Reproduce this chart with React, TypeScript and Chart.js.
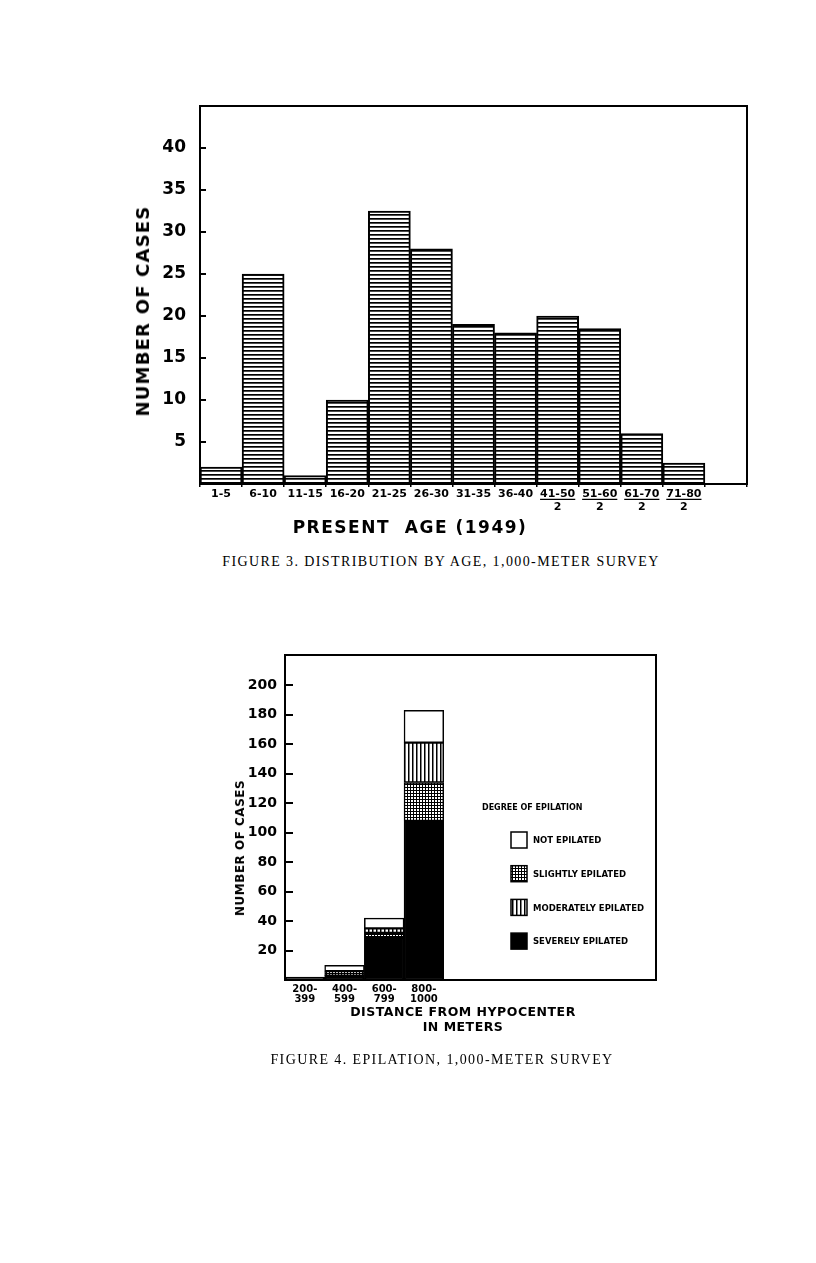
import React, { useEffect, useRef } from "react";
import { Chart, registerables } from "chart.js";

Chart.register(...registerables);

// ---------- Figure 3 data ----------
const ageLabels = ["1-5", "6-10", "11-15", "16-20", "21-25", "26-30", "31-35", "36-40", "41-50", "51-60", "61-70", "71-80", ""];
const ageDivisors = ["", "", "", "", "", "", "", "", "2", "2", "2", "2", ""];
const ageCases = [2, 25, 1, 10, 32.5, 28, 19, 18, 20, 18.5, 6, 2.5, null];
const ageAxisMax = 45;
const ageTickStep = 5;
const ageTickTop = 40;

// ---------- Figure 4 data ----------
const distLabels = [["200-", "399"], ["400-", "599"], ["600-", "799"], ["800-", "1000"]];
const distCenters = [0.5, 1.5, 2.5, 3.5];
const distAxisMax = 9.35;
const severelyEpilated = [2, 3, 29, 108];
const slightlyEpilated = [0, 3, 3, 26];
const moderatelyEpilated = [0, 0, 3, 27];
const notEpilated = [0, 4, 7, 22];
const epilationNames = ["SEVERELY EPILATED", "SLIGHTLY EPILATED", "MODERATELY EPILATED", "NOT EPILATED"];
const epilationAxisMax = 220.5;
const epilationTickStep = 20;
const epilationTickTop = 200;

const SANS = '"DejaVu Sans", sans-serif';
const SERIF = '"Liberation Serif", "DejaVu Serif", serif';

function makePattern(w: number, h: number, draw: (c: CanvasRenderingContext2D) => void) {
  const cv = document.createElement("canvas");
  cv.width = w;
  cv.height = h;
  const c = cv.getContext("2d")!;
  c.fillStyle = "#fff";
  c.fillRect(0, 0, w, h);
  c.fillStyle = "#000";
  draw(c);
  return c.createPattern(cv, "repeat")!;
}

function framePlugin(tickLen: number, tickTop: number) {
  return {
    id: "frame",
    afterDraw(chart: any) {
      const { ctx, chartArea } = chart;
      const ys = chart.scales.y;
      ctx.save();
      ctx.strokeStyle = "#000";
      ctx.lineWidth = 2;
      ctx.strokeRect(chartArea.left, chartArea.top, chartArea.right - chartArea.left, chartArea.bottom - chartArea.top);
      ctx.beginPath();
      ys.ticks.forEach((t: any) => {
        if (t.value > 0 && t.value <= tickTop) {
          const y = Math.round(ys.getPixelForValue(t.value));
          ctx.moveTo(chartArea.left, y);
          ctx.lineTo(chartArea.left + tickLen, y);
        }
      });
      ctx.stroke();
      ctx.restore();
    },
  };
}

const underlinePlugin = {
  id: "underline",
  afterDraw(chart: any) {
    const xs = chart.scales.x;
    const ctx = chart.ctx;
    const font = xs.options.ticks.font;
    ctx.save();
    ctx.font = `bold ${font.size}px ${font.family}`;
    ctx.strokeStyle = "#000";
    ctx.lineWidth = 1.3;
    const lineH = font.size * font.lineHeight;
    const y = xs.top + xs.options.grid.tickLength + xs.options.ticks.padding + lineH / 2 + 5.5;
    ctx.beginPath();
    ageLabels.forEach((lab, i) => {
      if (!ageDivisors[i]) return;
      const x = xs.getPixelForTick(i);
      const w = ctx.measureText(lab).width;
      ctx.moveTo(x - w / 2, y);
      ctx.lineTo(x + w / 2, y);
    });
    ctx.stroke();
    ctx.restore();
  },
};

function AgeChart() {
  const ref = useRef<HTMLCanvasElement>(null);
  useEffect(() => {
    const hatch = makePattern(4, 4, (c) => c.fillRect(0, 0, 4, 1.7));
    const chart = new Chart(ref.current!, {
      type: "bar",
      data: {
        labels: ageLabels.map((l, i) => (ageDivisors[i] ? [l, ageDivisors[i]] : l)),
        datasets: [
          {
            data: ageCases,
            backgroundColor: hatch,
            borderColor: "#000",
            borderWidth: 2,
            borderSkipped: false,
            categoryPercentage: 1,
            barPercentage: 1,
          },
        ],
      },
      options: {
        responsive: false,
        animation: false,
        layout: { padding: { top: 16, right: 23, left: 0, bottom: 0 } },
        plugins: { legend: { display: false }, tooltip: { enabled: false } },
        scales: {
          x: {
            grid: { display: true, drawOnChartArea: false, offset: true, tickLength: 3, color: "#000", lineWidth: 1.5 },
            border: { display: false },
            ticks: {
              autoSkip: false,
              maxRotation: 0,
              padding: 0,
              color: "#000",
              font: { family: SANS, weight: "bold", size: 11, lineHeight: 1.25 },
            },
            afterFit: (s: any) => {
              s.height = 46;
              s.paddingLeft = 0;
              s.paddingRight = 0;
            },
          },
          y: {
            min: 0,
            max: ageAxisMax,
            grid: { display: false, drawTicks: false },
            border: { display: false },
            ticks: {
              stepSize: ageTickStep,
              padding: 14,
              color: "#000",
              font: { family: SANS, weight: "bold", size: 17 },
              callback: (v: any) => (v > 0 && v <= ageTickTop ? String(v) : ""),
            },
            afterFit: (s: any) => {
              s.width = 110;
              s.paddingTop = 0;
              s.paddingBottom = 0;
            },
          },
        },
      } as any,
      plugins: [framePlugin(6, ageTickTop), underlinePlugin],
    });
    return () => chart.destroy();
  }, []);
  return <canvas ref={ref} width={680} height={440} style={{ position: "absolute", left: 82, top: 82 }} />;
}

function legendPlugin(patterns: any[]) {
  return {
    id: "epLegend",
    afterDraw(chart: any) {
      const { ctx, chartArea } = chart;
      ctx.save();
      ctx.fillStyle = "#000";
      ctx.textBaseline = "middle";
      ctx.textAlign = "left";
      ctx.font = `bold 8px ${SANS}`;
      ctx.fillText("DEGREE OF EPILATION", chartArea.left + 197, chartArea.top + 153);
      ctx.font = `bold 8.5px ${SANS}`;
      const order = [3, 1, 2, 0];
      order.forEach((di, k) => {
        const x = chartArea.left + 226;
        const y = chartArea.top + 177 + k * 33.7;
        ctx.fillStyle = patterns[di];
        ctx.fillRect(x, y, 16, 16);
        ctx.strokeStyle = "#000";
        ctx.lineWidth = 1.5;
        ctx.strokeRect(x, y, 16, 16);
        ctx.fillStyle = "#000";
        ctx.fillText(chart.data.datasets[di].label, x + 22, y + 9);
      });
      ctx.restore();
    },
  };
}

function EpilationChart() {
  const ref = useRef<HTMLCanvasElement>(null);
  useEffect(() => {
    const dots = makePattern(3, 3, (c) => {
      c.fillRect(0, 0, 3, 1);
      c.fillRect(0, 0, 1, 3);
    });
    const stripes = makePattern(4, 4, (c) => c.fillRect(0, 0, 1.5, 4));
    const patterns = ["#000", dots, stripes, "#fff"];
    const series = [severelyEpilated, slightlyEpilated, moderatelyEpilated, notEpilated];
    const chart = new Chart(ref.current!, {
      type: "bar",
      data: {
        datasets: series.map((vals, di) => ({
          label: epilationNames[di],
          data: vals.map((v, i) => ({ x: distCenters[i], y: v })),
          backgroundColor: patterns[di],
          borderColor: "#000",
          borderWidth: 1.5,
          borderSkipped: false,
          categoryPercentage: 1,
          barPercentage: 1,
        })),
      },
      options: {
        responsive: false,
        animation: false,
        layout: { padding: { top: 15, right: 24, left: 0, bottom: 0 } },
        plugins: { legend: { display: false }, tooltip: { enabled: false } },
        scales: {
          x: {
            type: "linear",
            min: 0,
            max: distAxisMax,
            offset: false,
            stacked: true,
            grid: { display: false, drawTicks: false, offset: false },
            border: { display: false },
            afterBuildTicks: (s: any) => {
              s.ticks = distCenters.map((v) => ({ value: v }));
            },
            ticks: {
              autoSkip: false,
              maxRotation: 0,
              padding: 4,
              color: "#000",
              font: { family: SANS, weight: "bold", size: 10, lineHeight: 1 },
              callback: (_v: any, i: number) => distLabels[i],
            },
            afterFit: (s: any) => {
              s.height = 60;
              s.paddingLeft = 0;
              s.paddingRight = 0;
            },
          },
          y: {
            min: 0,
            max: epilationAxisMax,
            stacked: true,
            grid: { display: false, drawTicks: false },
            border: { display: false },
            ticks: {
              stepSize: epilationTickStep,
              padding: 8,
              color: "#000",
              font: { family: SANS, weight: "bold", size: 14 },
              callback: (v: any) => (v > 0 && v <= epilationTickTop ? String(v) : ""),
            },
            afterFit: (s: any) => {
              s.width = 85;
              s.paddingTop = 0;
              s.paddingBottom = 0;
            },
          },
        },
      } as any,
      plugins: [framePlugin(8, epilationTickTop), legendPlugin(patterns)],
    });
    return () => chart.destroy();
  }, []);
  return <canvas ref={ref} width={480} height={400} style={{ position: "absolute", left: 192, top: 632 }} />;
}

function Txt(props: { x: number; y: number; rotate?: boolean; style?: React.CSSProperties; children: React.ReactNode }) {
  return (
    <div
      style={{
        position: "absolute",
        left: props.x - 8,
        top: props.y - 8,
        transform: `translate(-50%, -50%)${props.rotate ? " rotate(-90deg)" : ""}`,
        whiteSpace: "pre",
        color: "#000",
        lineHeight: 1,
        ...props.style,
      }}
    >
      {props.children}
    </div>
  );
}

export default function App() {
  const axisFont: React.CSSProperties = { fontFamily: SANS, fontWeight: "bold" };
  const capFont: React.CSSProperties = { fontFamily: SERIF, fontSize: 14, letterSpacing: 1.4 };
  return (
    <div style={{ position: "relative", width: 800, height: 1247, background: "#fff" }}>
      <AgeChart />
      <Txt x={143} y={311} rotate style={{ ...axisFont, fontSize: 18, letterSpacing: 1.2 }}>NUMBER OF CASES</Txt>
      <Txt x={410} y={527} style={{ ...axisFont, fontSize: 17, letterSpacing: 1.5 }}>{"PRESENT  AGE (1949)"}</Txt>
      <Txt x={441} y={562} style={capFont}>FIGURE 3. DISTRIBUTION BY AGE, 1,000-METER SURVEY</Txt>

      <EpilationChart />
      <Txt x={240} y={848} rotate style={{ ...axisFont, fontSize: 12, letterSpacing: 0.5 }}>NUMBER OF CASES</Txt>
      <Txt x={463} y={1012} style={{ ...axisFont, fontSize: 12.5, letterSpacing: 0.5 }}>DISTANCE FROM HYPOCENTER</Txt>
      <Txt x={463} y={1027} style={{ ...axisFont, fontSize: 12.5, letterSpacing: 0.5 }}>IN METERS</Txt>
      <Txt x={442} y={1060} style={capFont}>FIGURE 4. EPILATION, 1,000-METER SURVEY</Txt>
    </div>
  );
}
